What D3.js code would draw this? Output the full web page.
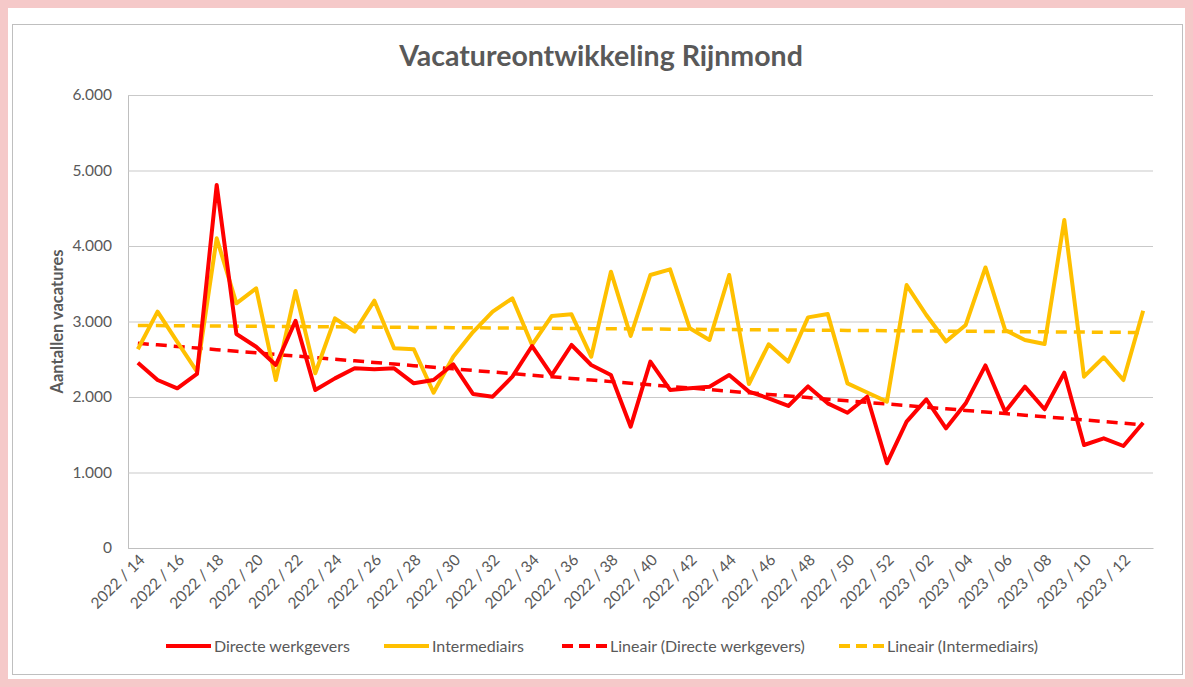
<!DOCTYPE html>
<html>
<head>
<meta charset="utf-8">
<script src="https://cdn.jsdelivr.net/npm/d3@7"></script>
<style>
  html, body { margin: 0; padding: 0; background: #ffffff; }
  svg { display: block; }
  text { font-family: Lato, "Open Sans", "DejaVu Sans", sans-serif; }
</style>
</head>
<body>
<svg id="chart" width="1193" height="687"></svg>
<script>
// ---- Data ----
const weeks = [
  "2022 / 14","2022 / 15","2022 / 16","2022 / 17","2022 / 18","2022 / 19","2022 / 20","2022 / 21",
  "2022 / 22","2022 / 23","2022 / 24","2022 / 25","2022 / 26","2022 / 27","2022 / 28","2022 / 29",
  "2022 / 30","2022 / 31","2022 / 32","2022 / 33","2022 / 34","2022 / 35","2022 / 36","2022 / 37",
  "2022 / 38","2022 / 39","2022 / 40","2022 / 41","2022 / 42","2022 / 43","2022 / 44","2022 / 45",
  "2022 / 46","2022 / 47","2022 / 48","2022 / 49","2022 / 50","2022 / 51","2022 / 52","2023 / 01",
  "2023 / 02","2023 / 03","2023 / 04","2023 / 05","2023 / 06","2023 / 07","2023 / 08","2023 / 09",
  "2023 / 10","2023 / 11","2023 / 12","2023 / 13"
];
const directeWerkgevers = [
  2454,2225,2115,2305,4808,2834,2666,2424,3010,2093,2247,2380,2367,2380,2181,2225,
  2433,2040,2004,2269,2675,2291,2689,2424,2291,1607,2468,2093,2115,2137,2291,2071,
  1983,1881,2140,1916,1792,2004,1122,1673,1969,1585,1916,2418,1805,2137,1837,2322,
  1364,1453,1351,1660
];
const intermediairs = [
  2632,3130,2730,2335,4102,3241,3440,2225,3405,2314,3042,2865,3276,2645,2632,2057,
  2534,2860,3130,3307,2689,3073,3095,2534,3660,2808,3616,3691,2910,2755,3616,2172,
  2698,2468,3055,3099,2181,2060,1938,3483,3086,2736,2954,3716,2887,2755,2702,4344,
  2269,2526,2225,3143
];
const yTicks = [0,1000,2000,3000,4000,5000,6000];
const seriesNames = ["Directe werkgevers","Intermediairs","Lineair (Directe werkgevers)","Lineair (Intermediairs)"];
const title = "Vacatureontwikkeling Rijnmond";
const yTitle = "Aantallen vacatures";

// ---- Setup ----
const svg = d3.select("#chart");
const W = 1193, H = 687;
const plot = {left: 128, right: 1153, top: 95, bottom: 548};
const RED = "#FF0000", YEL = "#FFC000", TXT = "#595959";

// outer pink frame
svg.append("rect").attr("x", 4).attr("y", 4).attr("width", W - 8).attr("height", H - 8)
  .attr("fill", "none").attr("stroke", "#f5c9c9").attr("stroke-width", 8);
// chart area border
svg.append("rect").attr("x", 12.5).attr("y", 24.5).attr("width", 1170).attr("height", 650)
  .attr("fill", "#fff").attr("stroke", "#bfbfbf").attr("stroke-width", 1);

const nl = d3.formatLocale({decimal: ",", thousands: ".", grouping: [3], currency: ["€", ""]});
const fmt = nl.format(",d");

const x = d3.scaleBand().domain(weeks).range([plot.left, plot.right]).padding(0);
const cx = d => x(d) + x.bandwidth() / 2;
const y = d3.scaleLinear().domain([0, 6000]).range([plot.bottom, plot.top]);

// gridlines + y axis
const yAxis = d3.axisLeft(y).tickValues(yTicks).tickFormat(fmt).tickSize(-(plot.right - plot.left)).tickPadding(16);
const gy = svg.append("g").attr("transform", `translate(${plot.left},0)`).call(yAxis);
gy.select(".domain").attr("stroke", "#bfbfbf");
gy.selectAll(".tick line").attr("stroke", "#c9c9c9").attr("stroke-width", 1);
gy.selectAll(".tick text").attr("fill", TXT).style("font-size", "15.5px");

// x axis
const xAxis = d3.axisBottom(x).tickValues(weeks.filter((d, i) => i % 2 === 0)).tickSize(0).tickPadding(0);
const gx = svg.append("g").attr("transform", `translate(0,${plot.bottom})`).call(xAxis);
gx.select(".domain").attr("stroke", "#bfbfbf");
gx.selectAll(".tick text")
  .attr("fill", TXT).style("font-size", "15.5px")
  .attr("text-anchor", "end")
  .attr("dy", null).attr("y", 0)
  .attr("transform", "translate(8,13) rotate(-45)");

// trend lines via least squares (as Excel linear trendline)
function trend(vals) {
  const n = vals.length;
  const xs = d3.range(n);
  const mx = d3.mean(xs), my = d3.mean(vals);
  let sxy = 0, sxx = 0;
  xs.forEach((xi, i) => { sxy += (xi - mx) * (vals[i] - my); sxx += (xi - mx) * (xi - mx); });
  const b = sxy / sxx, a = my - b * mx;
  return xs.map(xi => a + b * xi);
}
const trendRed = trend(directeWerkgevers);
const trendYel = trend(intermediairs);

const line = d3.line().x((d, i) => cx(weeks[i])).y(d => y(d));

svg.append("path").datum(trendYel).attr("d", line).attr("fill", "none")
  .attr("stroke", YEL).attr("stroke-width", 3.5).attr("stroke-dasharray", "11,7");
svg.append("path").datum(trendRed).attr("d", line).attr("fill", "none")
  .attr("stroke", RED).attr("stroke-width", 3.5).attr("stroke-dasharray", "11,7");
svg.append("path").datum(intermediairs).attr("d", line).attr("fill", "none")
  .attr("stroke", YEL).attr("stroke-width", 4).attr("stroke-linejoin", "round");
svg.append("path").datum(directeWerkgevers).attr("d", line).attr("fill", "none")
  .attr("stroke", RED).attr("stroke-width", 4).attr("stroke-linejoin", "round");

// title
svg.append("text").attr("x", 601).attr("y", 66).attr("text-anchor", "middle")
  .attr("fill", TXT).style("font-size", "28.5px").style("font-weight", "bold").text(title);

// y axis title
svg.append("text").attr("transform", `translate(63,${(plot.top + plot.bottom) / 2}) rotate(-90)`)
  .attr("text-anchor", "middle").attr("fill", TXT)
  .style("font-size", "16.5px").style("font-weight", "bold").text(yTitle);

// legend
const legendItems = [
  {name: seriesNames[0], color: RED, dash: null, x0: 166},
  {name: seriesNames[1], color: YEL, dash: null, x0: 384},
  {name: seriesNames[2], color: RED, dash: "11,6", x0: 562},
  {name: seriesNames[3], color: YEL, dash: "11,6", x0: 839}
];
const ly = 646;
const lg = svg.append("g");
legendItems.forEach(it => {
  lg.append("line").attr("x1", it.x0).attr("x2", it.x0 + 45).attr("y1", ly).attr("y2", ly)
    .attr("stroke", it.color).attr("stroke-width", 4).attr("stroke-dasharray", it.dash);
  lg.append("text").attr("x", it.x0 + 48).attr("y", ly + 5.5).attr("fill", TXT)
    .style("font-size", "16px").text(it.name);
});
</script>
</body>
</html>
